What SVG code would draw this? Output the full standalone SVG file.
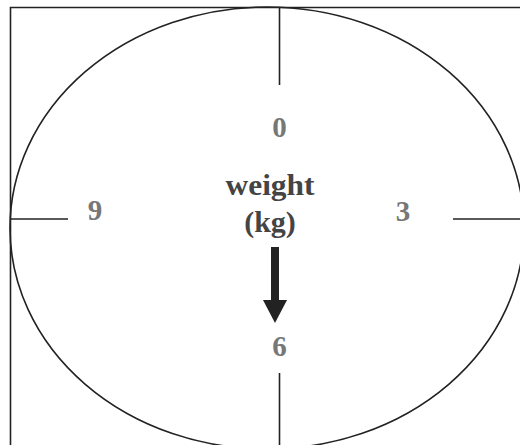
<svg xmlns="http://www.w3.org/2000/svg" width="520" height="445" viewBox="0 0 520 445">
  <style>
    .ln { stroke: #222; stroke-width: 1.6; fill: none; }
    .num { font-family: "Liberation Serif", "Times New Roman", serif; font-weight: bold; font-size: 29px; fill: #777; text-anchor: middle; }
    .lbl { font-family: "Liberation Serif", "Times New Roman", serif; font-weight: bold; font-size: 30px; fill: #444; text-anchor: middle; }
  </style>
  <rect width="520" height="445" fill="#fff"/>
  <g id="frame">
    <path class="ln" d="M10.5 445 V7.5 H520"/>
  </g>
  <g id="dial">
    <ellipse class="ln" cx="267" cy="228" rx="257" ry="221"/>
  </g>
  <g id="ticks">
    <line class="ln" x1="279.5" y1="7.5" x2="279.5" y2="85"/>
    <line class="ln" x1="10.5" y1="219" x2="68" y2="219"/>
    <line class="ln" x1="453" y1="219" x2="520" y2="219"/>
    <line class="ln" x1="279.5" y1="373" x2="279.5" y2="445"/>
  </g>
  <g id="numbers">
    <text class="num" x="279.5" y="137">0</text>
    <text class="num" x="95" y="220">9</text>
    <text class="num" x="403" y="221">3</text>
    <text class="num" x="279.5" y="356">6</text>
  </g>
  <g id="label">
    <text class="lbl" x="270" y="195" textLength="89" lengthAdjust="spacingAndGlyphs">weight</text>
    <text class="lbl" x="270" y="232">(kg)</text>
  </g>
  <g id="arrow">
    <rect x="271" y="247" width="8" height="54" fill="#222"/>
    <polygon points="263,300 287,300 275,323" fill="#222"/>
  </g>
</svg>
